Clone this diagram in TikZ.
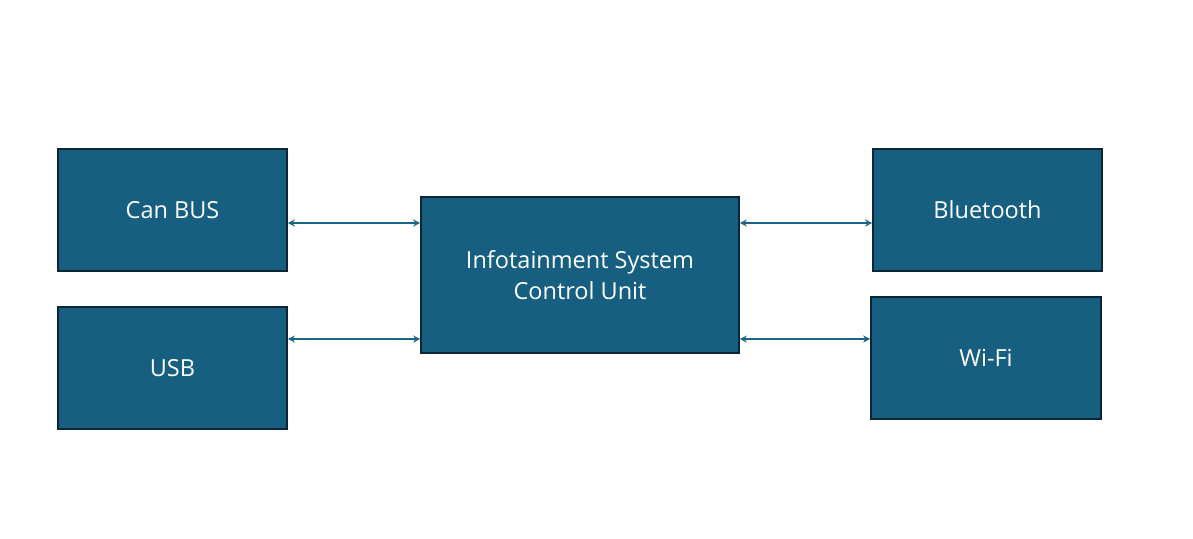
\documentclass[tikz,border=0pt]{standalone}
\usepackage{fontspec}
\setmainfont{Open Sans}
\usetikzlibrary{arrows.meta}
\definecolor{boxfill}{HTML}{165F80}
\definecolor{boxedge}{HTML}{0C2535}
\definecolor{arrowc}{HTML}{1A6585}
\begin{document}
\begin{tikzpicture}[x=1pt,y=-1pt,
  blk/.style={draw=boxedge,line width=1.6pt,fill=boxfill,text=white,font=\fontsize{23.5}{31}\selectfont,align=center,inner sep=0pt},
  link/.style={draw=arrowc,line width=1.5pt,{Stealth[length=7pt,width=7pt]}-{Stealth[length=7pt,width=7pt]}}]
\useasboundingbox[fill=white] (0,0) rectangle (1193,538);
\node[blk,minimum width=229pt,minimum height=122pt] (can) at (172.5,210) {Can BUS};
\node[blk,minimum width=229pt,minimum height=122pt] (usb) at (172.5,368) {USB};
\node[blk,minimum width=318pt,minimum height=156pt] (ctrl) at (580,275) {Infotainment System\\Control Unit};
\node[blk,minimum width=229pt,minimum height=122pt] (bt) at (987.5,210) {Bluetooth};
\node[blk,minimum width=230pt,minimum height=122pt] (wifi) at (986,358) {Wi-Fi};
\coordinate (c1) at (0,223);
\coordinate (c2) at (0,339);
\draw[link] (can.east |- c1) -- (ctrl.west |- c1);
\draw[link] (usb.east |- c2) -- (ctrl.west |- c2);
\draw[link] (ctrl.east |- c1) -- (bt.west |- c1);
\draw[link] (ctrl.east |- c2) -- (wifi.west |- c2);
\end{tikzpicture}
\end{document}
